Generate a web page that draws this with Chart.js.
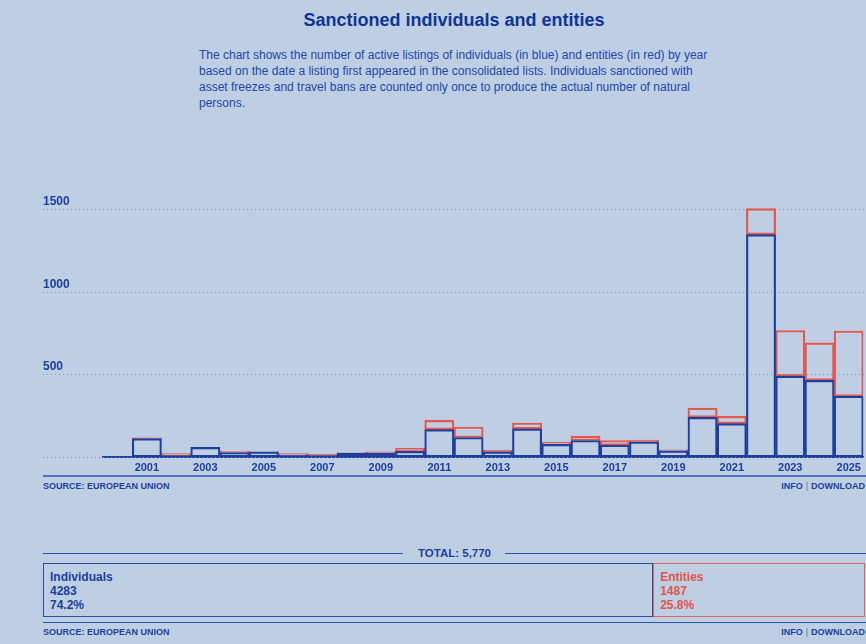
<!DOCTYPE html>
<html>
<head>
<meta charset="utf-8">
<script src="https://cdn.jsdelivr.net/npm/chart.js@4/dist/chart.umd.min.js"></script>
<style>
  html, body { margin: 0; padding: 0; }
  body {
    width: 866px; height: 644px; position: relative; overflow: hidden;
    background: #bfcfe3; font-family: Arial, "Liberation Sans", sans-serif; color: #1a3f9f;
  }
  h1 { position: absolute; left: 0; width: 908px; top: 9px; margin: 0; text-align: center;
       font-size: 18px; font-weight: bold; color: #0d3597; line-height: 22px; }
  .desc { position: absolute; left: 199px; top: 47px; font-size: 12px; line-height: 16px; color: #2148aa; }
  #wrap { position: absolute; left: 0; top: 180px; width: 866px; height: 300px; }
  .rule { position: absolute; left: 43px; right: 0; height: 0; border-top: 2px solid #4f71c1; }
  .src { position: absolute; left: 43px; font-size: 9px; font-weight: bold; color: #1a3f9f; }
  .links { position: absolute; right: 1px; font-size: 9px; font-weight: bold; color: #1a3f9f; }
  .links span { color: #5877c4; margin: 0 3px; font-weight: normal; }
  .total { position: absolute; left: 43px; right: 0; top: 545px; height: 16px; }
  .total .line { position: absolute; top: 8px; height: 0; border-top: 1px solid #2d52b1; }
  .total .lbl { position: absolute; left: 0; right: 0; top: 0; text-align: center; font-size: 11.5px;
                font-weight: bold; color: #1a3f9f; line-height: 16px; }
  .boxes { position: absolute; left: 43px; right: 1px; top: 563px; height: 54px; display: flex; }
  .box { box-sizing: border-box; height: 54px; padding: 6px 0 0 6px; font-size: 12px; font-weight: bold;
         line-height: 14px; }
  .box.ind { border: 1px solid #2b4ca5; color: #1a3f9f; }
  .box.ent { border: 1px solid #e0665d; color: #e0554b; }
</style>
</head>
<body>
<h1>Sanctioned individuals and entities</h1>
<div class="desc">The chart shows the number of active listings of individuals (in blue) and entities (in red) by year<br>based on the date a listing first appeared in the consolidated lists. Individuals sanctioned with<br>asset freezes and travel bans are counted only once to produce the actual number of natural<br>persons.</div>

<div id="wrap"><canvas id="sanctionsChart"></canvas></div>

<div class="rule" style="top:475px"></div>
<div class="src" style="top:481px">SOURCE: EUROPEAN UNION</div>
<div class="links" style="top:481px">INFO<span>|</span>DOWNLOAD</div>

<div class="total">
  <div class="line" style="left:0;width:360px"></div>
  <div class="lbl" id="totalLbl"></div>
  <div class="line" style="left:462px;right:0"></div>
</div>
<div class="boxes">
  <div class="box ind" id="boxInd"></div>
  <div class="box ent" id="boxEnt"></div>
</div>

<div class="rule" style="top:622px;border-top-width:1px;border-color:#2d52b1"></div>
<div class="src" style="top:627px">SOURCE: EUROPEAN UNION</div>
<div class="links" style="top:627px">INFO<span>|</span>DOWNLOAD</div>

<script>
// Listings by year the listing first appeared
const years = ['2000', '2001', '2002', '2003', '2004', '2005', '2006', '2007', '2008', '2009',
  '2010', '2011', '2012', '2013', '2014', '2015', '2016', '2017', '2018', '2019',
  '2020', '2021', '2022', '2023', '2024', '2025'];
const individuals = [0, 110, 7, 57, 26, 30, 10, 7, 22, 22, 33, 165, 117, 30, 169, 75, 99, 70, 90, 36,
  239, 201, 1348, 489, 464, 367];
const entities = [0, 5, 13, 2, 8, 2, 10, 8, 4, 8, 18, 56, 64, 10, 36, 13, 26, 29, 12, 6,
  56, 44, 157, 277, 227, 396];
const yTicks = [0, 500, 1000, 1500];

const blue = '#1f3f9e';
const red = '#e5574d';

// dotted grid lines + labels sitting on top of them, starting at the page margin
const gridPlugin = {
  id: 'dottedGrid',
  beforeDatasetsDraw(chart) {
    const { ctx, scales: { y } } = chart;
    ctx.save();
    yTicks.forEach(v => {
      const py = Math.round(y.getPixelForValue(v)) + 0.5;
      ctx.strokeStyle = '#7b93c8';
      ctx.lineWidth = 1;
      ctx.setLineDash([1, 3]);
      ctx.beginPath();
      ctx.moveTo(43, py);
      ctx.lineTo(chart.width, py);
      ctx.stroke();
      if (v > 0) {
        ctx.fillStyle = '#1a3f9f';
        ctx.font = 'bold 12px Arial, "Liberation Sans", sans-serif';
        ctx.textBaseline = 'alphabetic';
        ctx.fillText(String(v), 43, py - 5);
      }
    });
    ctx.restore();
  }
};

const ctx = document.getElementById('sanctionsChart').getContext('2d');
new Chart(ctx, {
  type: 'bar',
  data: {
    labels: years,
    datasets: [
      {
        label: 'Individuals',
        data: individuals,
        backgroundColor: 'rgba(0,0,0,0)',
        borderColor: blue,
        borderWidth: 1.5,
        borderSkipped: false,
      },
      {
        label: 'Entities',
        data: entities,
        backgroundColor: 'rgba(0,0,0,0)',
        borderColor: red,
        borderWidth: 1.5,
        borderSkipped: false,
      },
    ],
  },
  options: {
    responsive: true,
    maintainAspectRatio: false,
    animation: false,
    layout: { padding: { left: 103, right: 1, top: 13, bottom: 0 } },
    datasets: { bar: { barPercentage: 1, categoryPercentage: 1 } },
    plugins: { legend: { display: false }, tooltip: { enabled: false } },
    scales: {
      x: {
        stacked: true,
        grid: { display: false, drawTicks: false },
        border: { display: true, color: blue, width: 2 },
        ticks: {
          autoSkip: false,
          maxRotation: 0,
          padding: 5,
          color: '#1a3f9f',
          font: { family: 'Arial, "Liberation Sans", sans-serif', size: 11, weight: 'bold' },
          callback: (val, i) => (Number(years[i]) % 2 === 1 ? years[i] : ''),
        },
      },
      y: {
        stacked: true,
        display: false,
        min: 0,
        max: 1600,
      },
    },
  },
  plugins: [gridPlugin],
});

// Totals strip
const sumInd = individuals.reduce((a, b) => a + b, 0);
const sumEnt = entities.reduce((a, b) => a + b, 0);
const total = sumInd + sumEnt;
document.getElementById('totalLbl').textContent = 'TOTAL: ' + total.toLocaleString('en-US');
const boxInd = document.getElementById('boxInd');
const boxEnt = document.getElementById('boxEnt');
boxInd.style.width = (sumInd / total * 100) + '%';
boxEnt.style.width = (sumEnt / total * 100) + '%';
boxInd.innerHTML = 'Individuals<br>' + sumInd + '<br>' + (sumInd / total * 100).toFixed(1) + '%';
boxEnt.innerHTML = 'Entities<br>' + sumEnt + '<br>' + (sumEnt / total * 100).toFixed(1) + '%';
</script>
</body>
</html>
